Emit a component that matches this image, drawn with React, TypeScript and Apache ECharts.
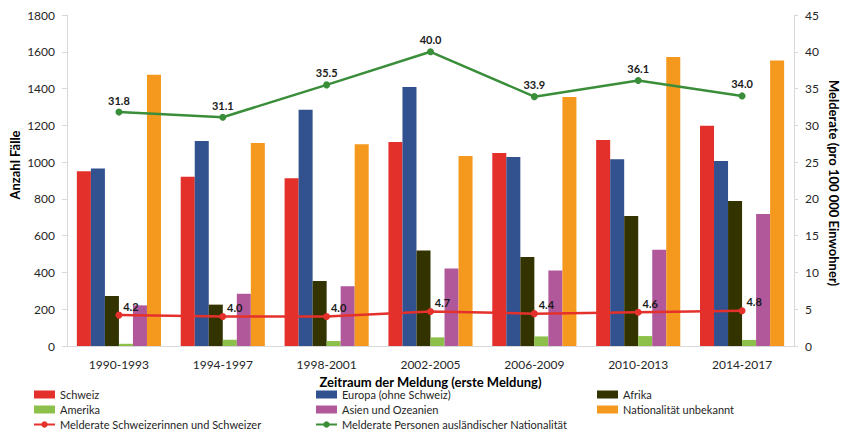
import React, { useEffect, useRef } from "react";
import * as echarts from "echarts";

const categories = ["1990-1993", "1994-1997", "1998-2001", "2002-2005", "2006-2009", "2010-2013", "2014-2017"];
const schweiz = [950, 920, 912, 1109, 1049, 1120, 1198];
const europa = [965, 1115, 1285, 1408, 1028, 1015, 1006];
const afrika = [272, 225, 353, 520, 484, 707, 788];
const amerika = [12, 34, 27, 47, 52, 54, 33];
const asien = [221, 284, 325, 422, 410, 524, 718];
const unbekannt = [1475, 1104, 1097, 1033, 1354, 1571, 1553];
const rateSchweiz = [4.2, 4.0, 4.0, 4.7, 4.4, 4.6, 4.8];
const rateAusland = [31.8, 31.1, 35.5, 40.0, 33.9, 36.1, 34.0];

const FONT = "Lato, 'Noto Sans', sans-serif";

const barColors = {
  schweiz: "#E3302B",
  europa: "#31518F",
  afrika: "#333300",
  amerika: "#8CC04A",
  asien: "#B0589A",
  unbekannt: "#F5991E",
};

export default function App() {
  const ref = useRef<HTMLDivElement>(null);
  useEffect(() => {
    if (!ref.current) return;
    const chart = echarts.init(ref.current, undefined, { renderer: "svg" });
    const bar = (name: string, data: number[], color: string) => ({
      name,
      type: "bar",
      data,
      yAxisIndex: 0,
      barGap: "0%",
      barCategoryGap: "19%",
      itemStyle: { color },
    });
    const legendCommon = {
      orient: "vertical",
      top: 387,
      height: 47,
      padding: 0,
      itemWidth: 21,
      itemHeight: 8,
      itemGap: 0,
      textStyle: { fontFamily: FONT, fontSize: 11, color: "#262626", lineHeight: 15 },
      selectedMode: false,
    };
    chart.setOption({
      animation: false,
      textStyle: { fontFamily: FONT },
      grid: { left: 67, right: 52, top: 15, bottom: 88, containLabel: false },
      legend: [
        { ...legendCommon, left: 33, data: [{ name: "Schweiz", icon: "rect" }, { name: "Amerika", icon: "rect" }, { name: "Melderate Schweizerinnen und Schweizer" }] },
        { ...legendCommon, left: 315, data: [{ name: "Europa (ohne Schweiz)", icon: "rect" }, { name: "Asien und Ozeanien", icon: "rect" }, { name: "Melderate Personen ausländischer Nationalität" }] },
        { ...legendCommon, left: 597, data: [{ name: "Afrika", icon: "rect" }, { name: "Nationalität unbekannt", icon: "rect" }] },
      ],
      xAxis: {
        type: "category",
        data: categories,
        axisLine: { lineStyle: { color: "#d9d9d9", width: 1 } },
        axisTick: { show: false },
        axisLabel: { fontFamily: FONT, fontSize: 12, color: "#262626", margin: 12 },
        name: "Zeitraum der Meldung (erste Meldung)",
        nameLocation: "middle",
        nameGap: 29,
        nameTextStyle: { fontFamily: FONT, fontSize: 13, fontWeight: "bold", color: "#000" },
      },
      yAxis: [
        {
          type: "value",
          min: 0,
          max: 1800,
          interval: 200,
          splitLine: { show: false },
          axisLine: { show: true, lineStyle: { color: "#d9d9d9" } },
          axisTick: { show: true, length: 5, lineStyle: { color: "#d9d9d9" } },
          axisLabel: { fontFamily: FONT, fontSize: 12, color: "#262626", margin: 12, formatter: (v: number) => String(v) },
        },
        {
          type: "value",
          min: 0,
          max: 45,
          interval: 5,
          position: "right",
          splitLine: { show: false },
          axisLine: { show: true, lineStyle: { color: "#d9d9d9" } },
          axisTick: { show: true, length: 4, lineStyle: { color: "#d9d9d9" } },
          axisLabel: { fontFamily: FONT, fontSize: 12, color: "#262626", margin: 11, formatter: (v: number) => String(v) },
        },
      ],
      graphic: [
        {
          type: "text",
          x: 15,
          y: 165,
          rotation: Math.PI / 2,
          style: { text: "Anzahl Fälle", font: `bold 13px ${FONT}`, fill: "#000", textAlign: "center", textVerticalAlign: "middle" },
        },
        {
          type: "text",
          x: 834,
          y: 183,
          rotation: -Math.PI / 2,
          style: { text: "Melderate (pro 100 000 Einwohner)", font: `bold 13px ${FONT}`, fill: "#000", textAlign: "center", textVerticalAlign: "middle" },
        },
      ],
      series: [
        bar("Schweiz", schweiz, barColors.schweiz),
        bar("Europa (ohne Schweiz)", europa, barColors.europa),
        bar("Afrika", afrika, barColors.afrika),
        bar("Amerika", amerika, barColors.amerika),
        bar("Asien und Ozeanien", asien, barColors.asien),
        bar("Nationalität unbekannt", unbekannt, barColors.unbekannt),
        {
          name: "Melderate Schweizerinnen und Schweizer",
          type: "line",
          yAxisIndex: 1,
          data: rateSchweiz,
          symbol: "circle",
          symbolSize: 7,
          lineStyle: { color: "#E5312B", width: 2.5 },
          itemStyle: { color: "#E5312B" },
          label: {
            show: true,
            position: "top",
            offset: [12, 5],
            formatter: (p: any) => Number(p.value).toFixed(1),
            fontFamily: FONT,
            fontSize: 11,
            fontWeight: "bold",
            color: "#1a1a1a",
          },
          z: 5,
        },
        {
          name: "Melderate Personen ausländischer Nationalität",
          type: "line",
          yAxisIndex: 1,
          data: rateAusland,
          symbol: "circle",
          symbolSize: 7,
          lineStyle: { color: "#3A8E3A", width: 2.5 },
          itemStyle: { color: "#3A8E3A" },
          label: {
            show: true,
            position: "top",
            offset: [0, 2],
            formatter: (p: any) => Number(p.value).toFixed(1),
            fontFamily: FONT,
            fontSize: 11,
            fontWeight: "bold",
            color: "#1a1a1a",
          },
          z: 5,
        },
      ],
    });
    return () => chart.dispose();
  }, []);
  return <div ref={ref} style={{ position: "absolute", left: 0, top: 0, width: 846, height: 434 }} />;
}
